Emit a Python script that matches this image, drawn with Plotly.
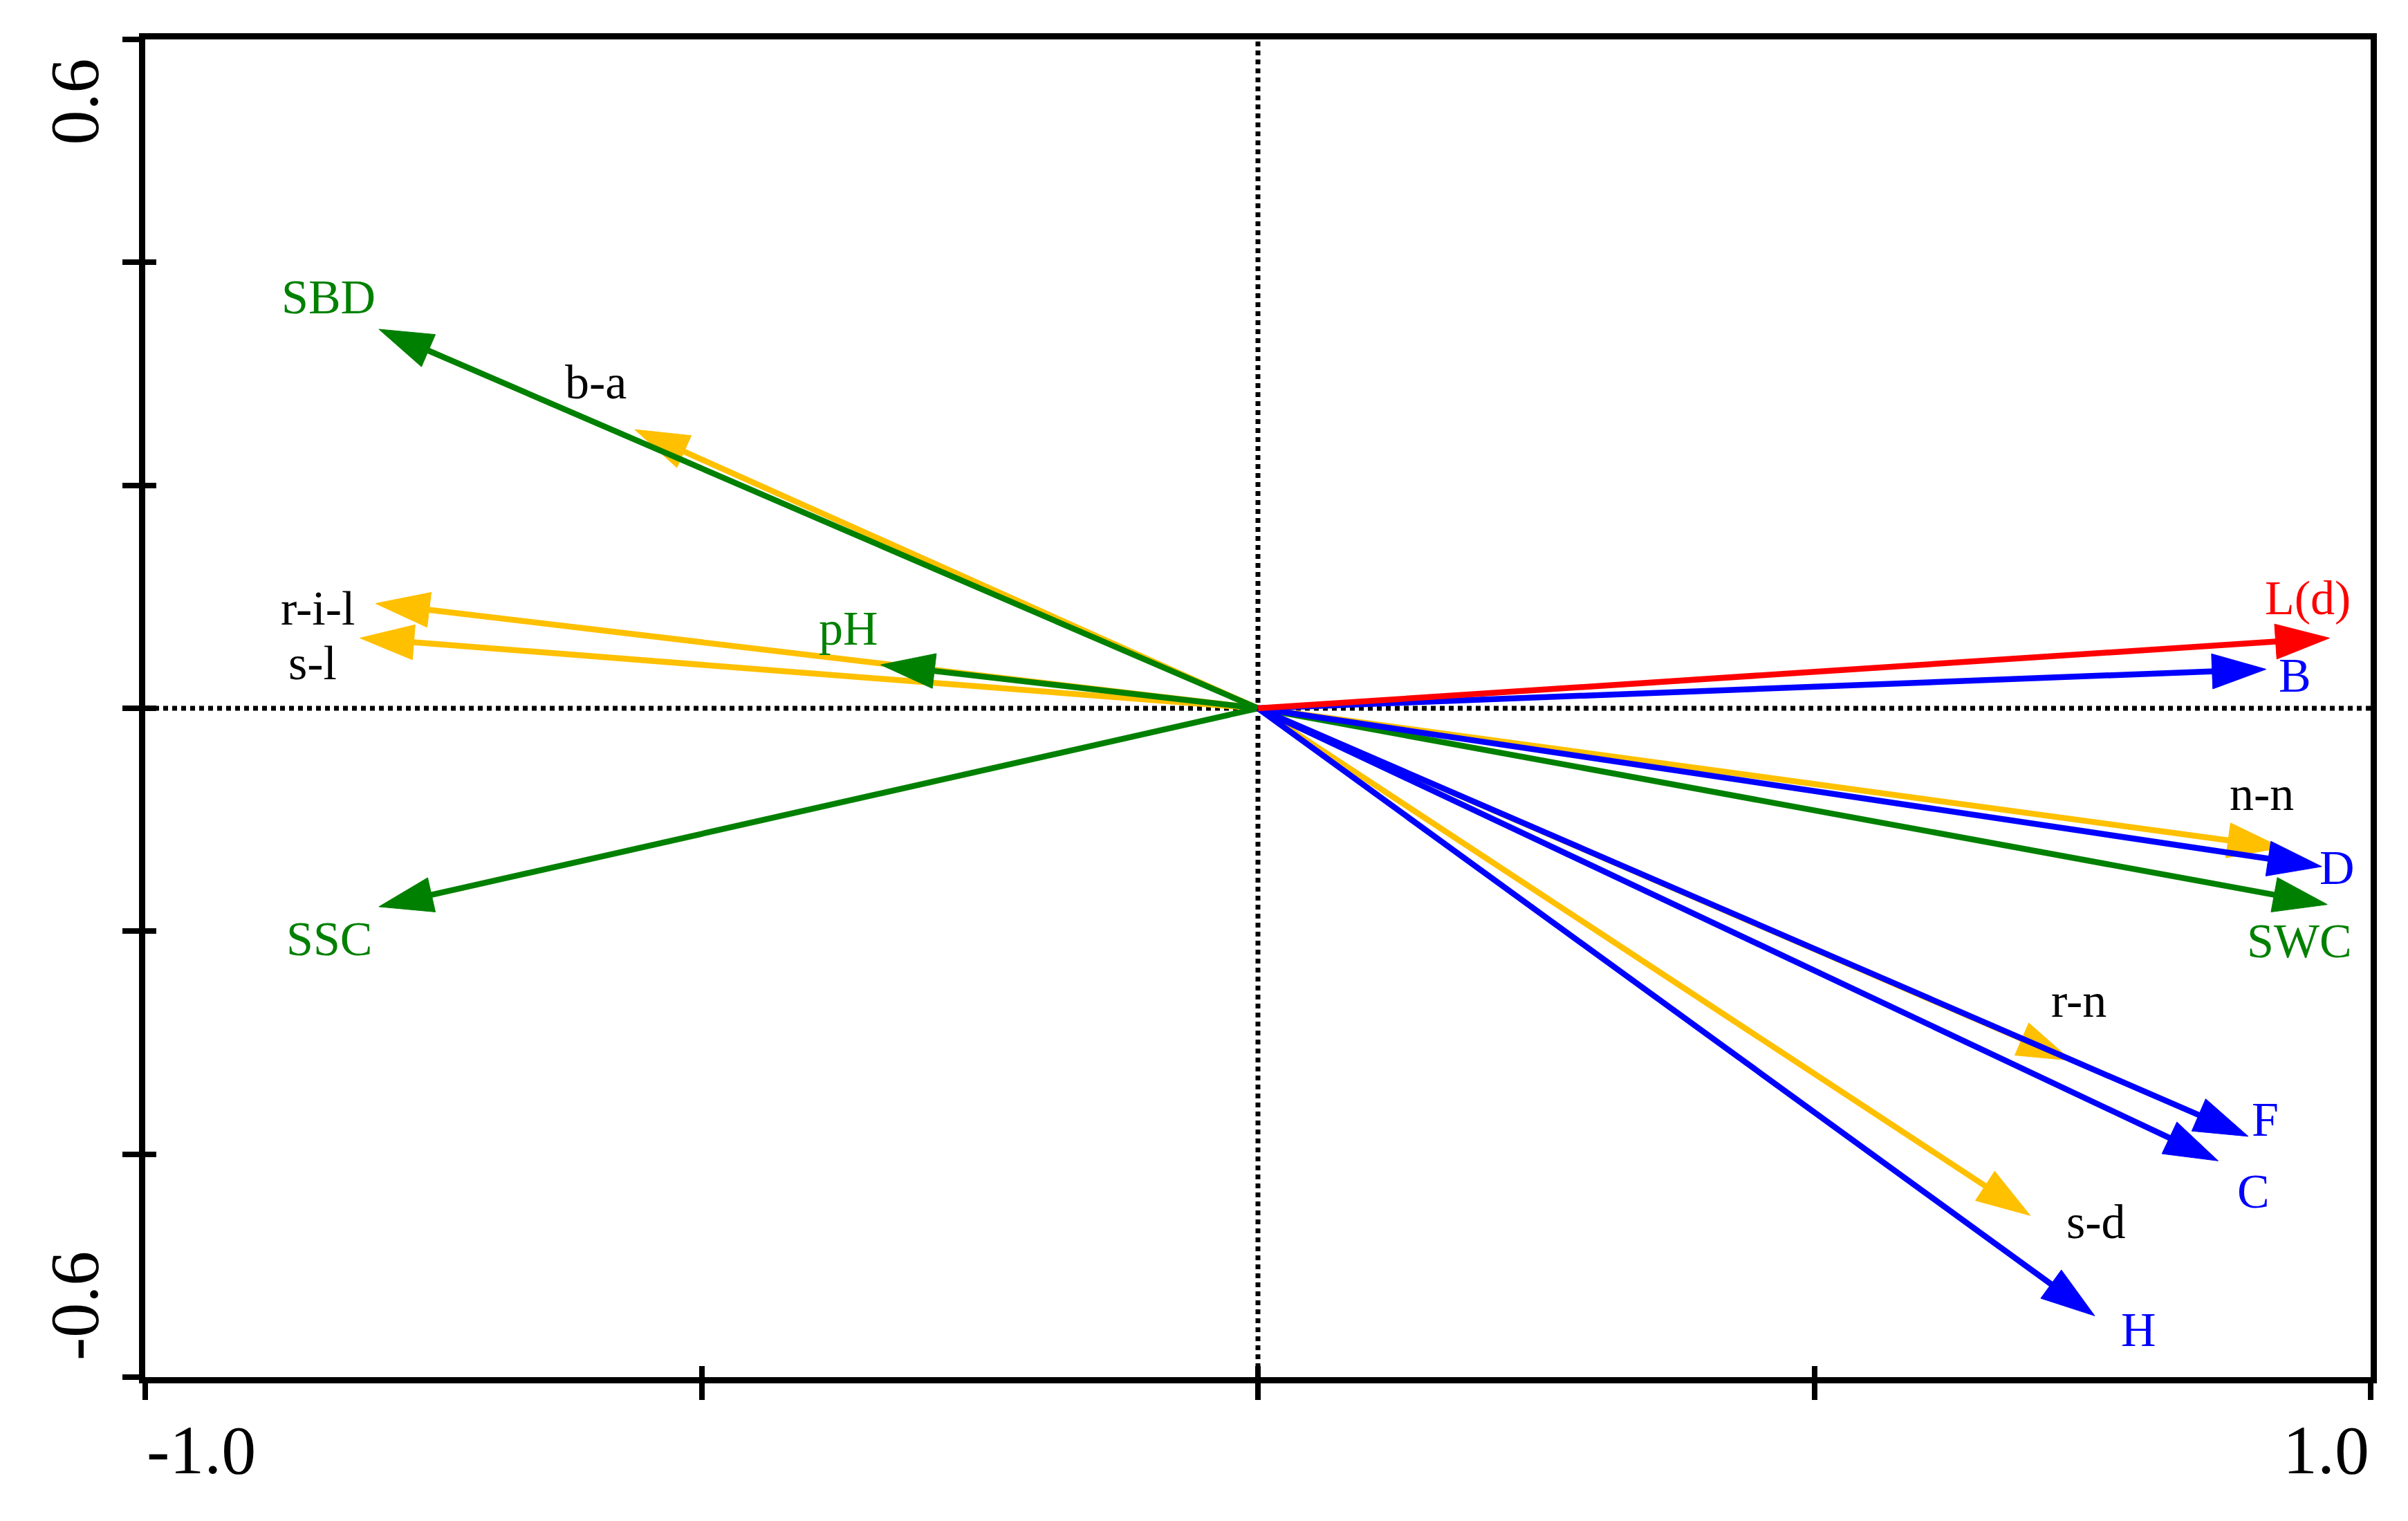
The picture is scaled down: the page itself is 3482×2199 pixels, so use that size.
import plotly.graph_objects as go

# ---------------- data ----------------
# species scores (orange arrows, black labels)
species_names = ["b-a", "r-i-l", "s-l", "n-n", "r-n", "s-d"]
species_x = [-0.560, -0.793, -0.807, 0.920, 0.731, 0.694]
species_y = [0.250, 0.094, 0.063, -0.125, -0.316, -0.455]

# environmental variables (green arrows)
env_names = ["SBD", "pH", "SSC", "SWC"]
env_x = [-0.790, -0.339, -0.790, 0.961]
env_y = [0.340, 0.039, -0.178, -0.176]

# traits (blue arrows)
trait_names = ["B", "D", "F", "C", "H"]
trait_x = [0.906, 0.956, 0.890, 0.863, 0.752]
trait_y = [0.035, -0.142, -0.384, -0.406, -0.545]

# L(d) (red arrow)
ld_names = ["L(d)"]
ld_x = [0.963]
ld_y = [0.063]

x_tick_vals = [-1.0, -0.5, 0.0, 0.5, 1.0]
y_tick_vals = [-0.6, -0.4, -0.2, 0.0, 0.2, 0.4, 0.6]
x_end_labels = ["-1.0", "1.0"]
y_end_labels = ["0.6", "-0.6"]

# ---------------- styling ----------------
FONT = "Liberation Serif"
ORANGE = "#FFC000"
GREEN = "#008000"
BLUE = "#0000FF"
RED = "#FF0000"
LW = 8.5
HEAD = 82

# label offsets from the arrow tip, in pixels (x right, y up)
label_offset = {
    "SBD": (-73, 47), "b-a": (-56, 69), "r-i-l": (-84, -7), "s-l": (-69, -36),
    "pH": (-47, 53), "SSC": (-71, -47), "L(d)": (-31, 58), "B": (42, -9),
    "n-n": (-29, 78), "D": (22, -2), "SWC": (-40, -53), "r-n": (11, 87),
    "F": (24, 24), "C": (51, -44), "s-d": (95, -9), "H": (64, -20),
}

groups = [
    (species_names, species_x, species_y, ORANGE, "black"),
    (env_names, env_x, env_y, GREEN, GREEN),
    (trait_names, trait_x, trait_y, BLUE, BLUE),
    (ld_names, ld_x, ld_y, RED, RED),
]

fig = go.Figure()
annotations = []

for names, xs, ys, col, tcol in groups:
    for n, x, y in zip(names, xs, ys):
        fig.add_trace(go.Scatter(
            x=[0, x], y=[0, y], mode="lines+markers",
            line=dict(color=col, width=LW),
            marker=dict(symbol=["circle", "arrow"], size=[0, HEAD],
                        angleref="previous", color=col, opacity=1,
                        line=dict(width=1, color=col)),
            hoverinfo="skip", showlegend=False,
        ))
        dx, dy = label_offset[n]
        annotations.append(dict(
            x=x, y=y, xref="x", yref="y", text=n, showarrow=False,
            xshift=dx, yshift=dy, xanchor="center", yanchor="middle",
            font=dict(family=FONT, size=70, color=tcol),
        ))

# dummy trace so the overlay axes (inner half of ticks) are drawn
fig.add_trace(go.Scatter(x=[0], y=[0], xaxis="x2", yaxis="y2", mode="markers",
                         marker=dict(opacity=0), hoverinfo="skip", showlegend=False))

# end tick labels
annotations.append(dict(x=x_tick_vals[0], y=0, xref="x", yref="paper", text=x_end_labels[0],
                        showarrow=False, xanchor="left", yanchor="middle", yshift=-105,
                        font=dict(family=FONT, size=100, color="black")))
annotations.append(dict(x=x_tick_vals[-1], y=0, xref="x", yref="paper", text=x_end_labels[1],
                        showarrow=False, xanchor="right", yanchor="middle", yshift=-105,
                        font=dict(family=FONT, size=100, color="black")))
annotations.append(dict(x=0, y=y_tick_vals[-1], xref="paper", yref="y", text=y_end_labels[0],
                        showarrow=False, xanchor="center", yanchor="top", xshift=-103, yshift=-26,
                        textangle=-90, font=dict(family=FONT, size=100, color="black")))
annotations.append(dict(x=0, y=y_tick_vals[0], xref="paper", yref="y", text=y_end_labels[1],
                        showarrow=False, xanchor="center", yanchor="bottom", xshift=-103, yshift=22,
                        textangle=-90, font=dict(family=FONT, size=100, color="black")))

XR = [-1.0, 1.0]
YR = [-0.6, 0.6]

axis_common = dict(showgrid=False, zeroline=False, ticks="outside", ticklen=24,
                   tickwidth=8, tickcolor="black", showticklabels=False,
                   showline=True, linecolor="black", linewidth=9, mirror=True)

inner_common = dict(showgrid=False, zeroline=False, showline=False, showticklabels=False,
                    ticks="inside", ticklen=16, tickwidth=8, tickcolor="black")

fig.update_layout(
    width=3482, height=2199,
    margin=dict(l=202, r=62, t=49, b=216),
    paper_bgcolor="white", plot_bgcolor="white",
    xaxis=dict(range=XR, tickvals=x_tick_vals, **axis_common),
    yaxis=dict(range=YR, tickvals=y_tick_vals, **axis_common),
    xaxis2=dict(range=XR, tickvals=x_tick_vals, overlaying="x", side="bottom", anchor="y2",
                **inner_common),
    yaxis2=dict(range=YR, tickvals=y_tick_vals, overlaying="y", side="left", anchor="x2",
                **inner_common),
    annotations=annotations,
    shapes=[
        dict(type="line", xref="x", yref="paper", x0=0, x1=0, y0=0, y1=1,
             line=dict(color="black", width=7, dash="7px,6px"), layer="below"),
        dict(type="line", xref="paper", yref="y", x0=0, x1=1, y0=0, y1=0,
             line=dict(color="black", width=7, dash="7px,6px"), layer="below"),
    ],
)

fig.write_html("out.html")
